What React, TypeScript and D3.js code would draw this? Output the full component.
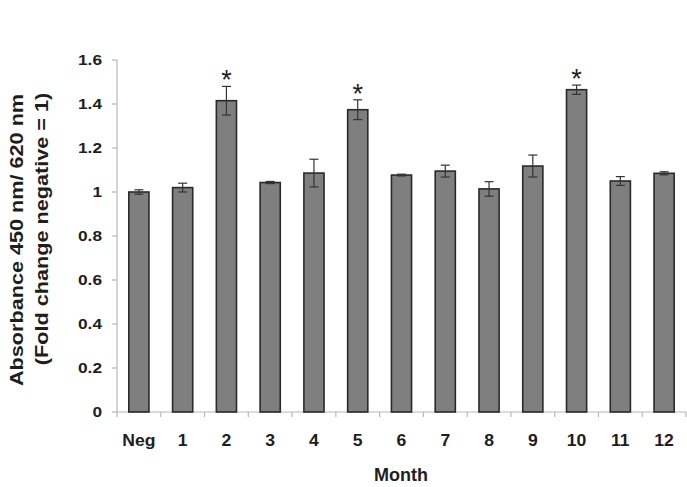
import React from 'react'
import * as d3 from 'd3'

const categories = ['Neg', '1', '2', '3', '4', '5', '6', '7', '8', '9', '10', '11', '12']
const means = [1.0, 1.02, 1.415, 1.043, 1.086, 1.374, 1.077, 1.095, 1.014, 1.118, 1.465, 1.05, 1.085]
const errors = [0.01, 0.02, 0.065, 0.005, 0.063, 0.045, 0.004, 0.027, 0.033, 0.05, 0.021, 0.02, 0.007]
const significant = ['2', '5', '10']
const yTicks = [0, 0.2, 0.4, 0.6, 0.8, 1, 1.2, 1.4, 1.6]

const W = 687
const H = 487
const margin = { top: 60, right: 1, bottom: 75, left: 117 }
const font = '"Liberation Sans", Arial, sans-serif'

const App = () => {
  const innerW = W - margin.left - margin.right
  const innerH = H - margin.top - margin.bottom

  const x = d3.scaleBand()
    .domain(categories)
    .range([0, innerW])
    .paddingInner(0.54)
    .paddingOuter(0.27)

  const y = d3.scaleLinear()
    .domain([0, 1.6])
    .range([innerH, 0])

  const band = innerW / categories.length
  const bw = x.bandwidth()
  const axisColor = '#b8b8b8'
  const ink = '#1e1e1e'

  return (
    <svg width={W} height={H} style={{ position: 'absolute', left: 0, top: 0, background: '#fff' }}
      fontFamily={font} fontWeight="bold">
      <g transform={`translate(${margin.left},${margin.top})`}>
        {/* y axis */}
        <line x1={0} x2={0} y1={y(1.6)} y2={innerH} stroke={axisColor} strokeWidth={1.2} />
        {yTicks.map(t => (
          <g key={t} transform={`translate(0,${y(t)})`}>
            <line x1={-5} x2={0} stroke={axisColor} strokeWidth={1.2} />
            <text transform="translate(-15,0) scale(1.15,1)" dy="0.35em" textAnchor="end" fontSize={15} fill={ink}>
              {d3.format('~g')(t)}
            </text>
          </g>
        ))}
        {/* x axis */}
        <line x1={0} x2={innerW} y1={innerH} y2={innerH} stroke={axisColor} strokeWidth={1.2} />
        {d3.range(categories.length + 1).map(i => (
          <line key={i} x1={i * band} x2={i * band} y1={innerH} y2={innerH + 5} stroke={axisColor} strokeWidth={1.2} />
        ))}
        {categories.map(c => (
          <text key={c} transform={`translate(${(x(c) ?? 0) + bw / 2},${innerH + 34}) scale(1.1,1)`}
            textAnchor="middle" fontSize={16} fill={ink}>{c}</text>
        ))}
        {/* bars */}
        {categories.map((c, i) => {
          const bx = x(c) ?? 0
          const cx = bx + bw / 2
          const hi = y(means[i] + errors[i])
          const lo = y(means[i] - errors[i])
          return (
            <g key={c}>
              <rect x={bx} y={y(means[i])} width={bw} height={innerH - y(means[i])}
                fill="#7f7f7f" stroke="#2a2a2a" strokeWidth={1.6} />
              <line x1={cx} x2={cx} y1={hi} y2={lo} stroke="#333" strokeWidth={1.2} />
              <line x1={cx - 4.5} x2={cx + 4.5} y1={hi} y2={hi} stroke="#333" strokeWidth={1.2} />
              <line x1={cx - 4.5} x2={cx + 4.5} y1={lo} y2={lo} stroke="#333" strokeWidth={1.2} />
              {significant.includes(c) && (
                <text x={cx} y={hi + 3} textAnchor="middle" fontSize={27} fontWeight="normal" fill={ink}>*</text>
              )}
            </g>
          )
        })}
      </g>
      {/* axis titles */}
      <text transform="translate(17,240) rotate(-90) scale(1.17,1)" dy="0.35em" textAnchor="middle" fontSize={18.5} fill={ink}>
        Absorbance 450 nm/ 620 nm
      </text>
      <text transform="translate(42,229) rotate(-90) scale(1.17,1)" dy="0.35em" textAnchor="middle" fontSize={18.5} fill={ink}>
        (Fold change negative = 1)
      </text>
      <text x={401} y={481} textAnchor="middle" fontSize={18} fill={ink}>Month</text>
    </svg>
  )
}

export default App
